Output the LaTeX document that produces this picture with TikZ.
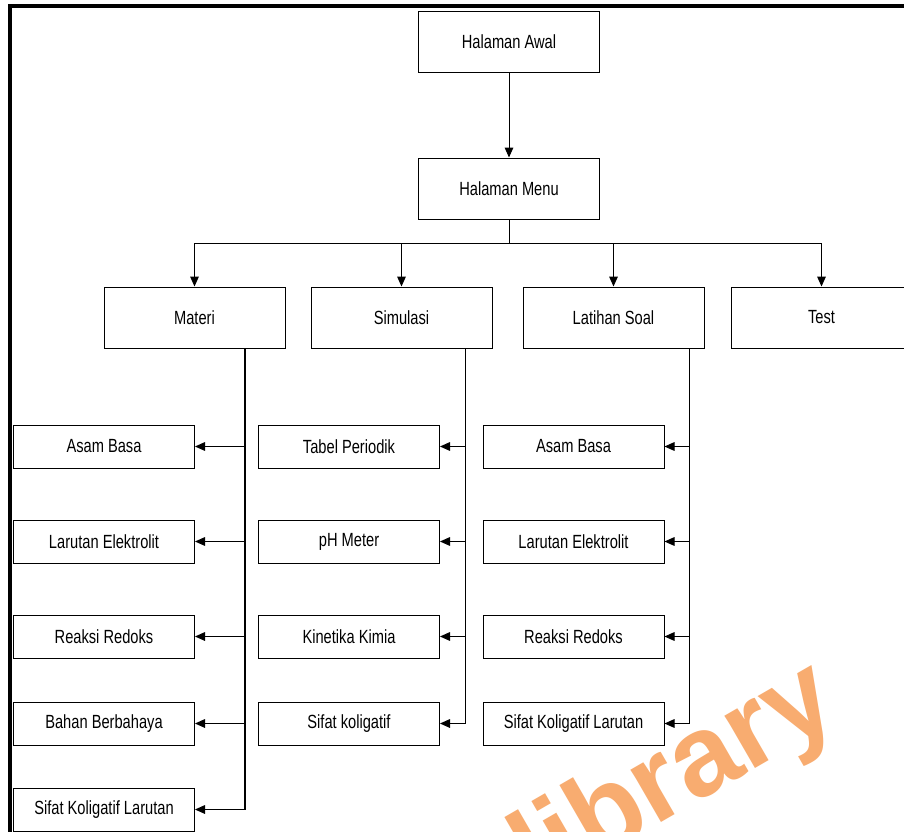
\documentclass[tikz,border=0pt]{standalone}
\usepackage{fontspec}
\setmainfont{Liberation Sans}
\usetikzlibrary{arrows.meta}
\definecolor{wmorange}{RGB}{248,172,112}
\newcommand{\vs}[1]{\scalebox{1}[1.3]{#1}}
\begin{document}
\begin{tikzpicture}[x=0.75pt,y=-0.75pt,
  box/.style={draw=black,line width=0.75pt,minimum width=135.75pt,inner sep=0pt,
    font=\fontsize{11}{13}\selectfont},
  topbox/.style={box,minimum height=45.75pt},
  subbox/.style={box,minimum height=32.25pt},
  conn/.style={draw=black,line width=0.75pt},
  arr/.style={conn,-{Triangle[length=7.5pt,width=6.5pt]}}]
\useasboundingbox (0,0) rectangle (904,832);
\clip (0,0) rectangle (904,832);
\fill[white] (0,0) rectangle (904,832);
% watermark
\node[rotate=30,text=wmorange,font=\fontsize{86}{86}\selectfont\bfseries] (wm) at (676,780) {library};
% frame
\fill[black] (8,4) rectangle (904,7.5);
\fill[black] (8,4) rectangle (12,832);
% top level
\node[topbox] (awal) at (509,42) {\vs{Halaman Awal}};
\node[topbox] (menu) at (509,188.5) {\vs{Halaman Menu}};
\node[topbox] (mat) at (194.5,317.5) {\vs{Materi}};
\node[topbox] (sim) at (401.5,317.5) {\vs{Simulasi}};
\node[topbox] (lat) at (613.5,317.5) {\vs{Latihan Soal}};
\node[topbox] (tst) at (821.5,317.5) {\vs{Test}};
\draw[arr] (awal) -- (menu);
\coordinate (bus) at (509,243);
\draw[conn] (menu.south) -- (bus);
\draw[conn] (bus -| mat.north) -- (bus -| tst.north);
\foreach \n in {mat,sim,lat,tst} \draw[arr] (bus -| \n.north) -- (\n.north);
% Materi children
\node[subbox] (m1) at (104,446.5) {\vs{Asam Basa}};
\node[subbox] (m2) at (104,541.5) {\vs{Larutan Elektrolit}};
\node[subbox] (m3) at (104,636.5) {\vs{Reaksi Redoks}};
\node[subbox] (m4) at (104,723.5) {\vs{Bahan Berbahaya}};
\node[subbox] (m5) at (104,809.5) {\vs{Sifat Koligatif Larutan}};
\coordinate (mt) at (245,809.5);
\draw[conn,line width=1.2pt] (mat.south -| mt) -- (mt);
\foreach \n in {m1,m2,m3,m4,m5} \draw[arr] (\n.east -| mt) -- (\n.east);
% Simulasi children
\node[subbox] (s1) at (349,446.5) {\vs{Tabel Periodik}};
\node[subbox] (s2) at (349,541.5) {\vs{pH Meter}};
\node[subbox] (s3) at (349,636.5) {\vs{Kinetika Kimia}};
\node[subbox] (s4) at (349,723.5) {\vs{Sifat koligatif}};
\coordinate (st) at (465,723.5);
\draw[conn] (sim.south -| st) -- (st);
\foreach \n in {s1,s2,s3,s4} \draw[arr] (\n.east -| st) -- (\n.east);
% Latihan children
\node[subbox] (l1) at (573.5,446.5) {\vs{Asam Basa}};
\node[subbox] (l2) at (573.5,541.5) {\vs{Larutan Elektrolit}};
\node[subbox] (l3) at (573.5,636.5) {\vs{Reaksi Redoks}};
\node[subbox] (l4) at (573.5,723.5) {\vs{Sifat Koligatif Larutan}};
\coordinate (lt) at (689,723.5);
\draw[conn] (lat.south -| lt) -- (lt);
\foreach \n in {l1,l2,l3,l4} \draw[arr] (\n.east -| lt) -- (\n.east);
\end{tikzpicture}
\end{document}
